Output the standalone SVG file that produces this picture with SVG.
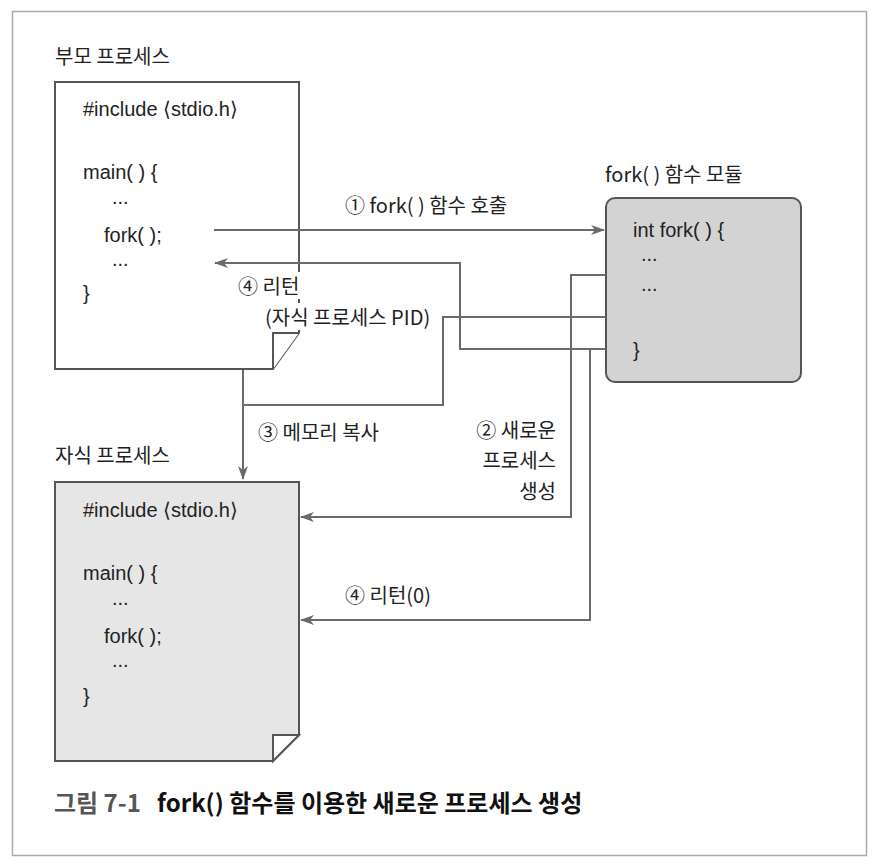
<svg xmlns="http://www.w3.org/2000/svg" width="880" height="865" viewBox="0 0 880 865">
<style>
  text { font-family: "Liberation Sans", "Noto Sans CJK KR", sans-serif; font-size: 20px; fill: #222; }
  .ko { font-family: "Noto Sans CJK KR", "Liberation Sans", sans-serif; }
  .doc { stroke: #555; stroke-width: 2; }
  .conn { fill: none; stroke: #6a6a6a; stroke-width: 2; }
  .cap { font-family: "Noto Sans CJK KR", sans-serif; font-size: 24px; font-weight: bold; }
</style>
<defs>
  <marker id="arr" viewBox="0 0 14 10" refX="13" refY="5" markerWidth="14" markerHeight="10" markerUnits="userSpaceOnUse" orient="auto">
    <path d="M0,0 L14,5 L0,10 L4,5 Z" fill="#6a6a6a"/>
  </marker>
</defs>
<rect x="0" y="0" width="880" height="865" fill="#fff"/>
<rect x="12.5" y="11.5" width="854" height="844" fill="none" stroke="#aaa" stroke-width="1.5"/>

<g id="parent">
  <text x="55" y="64" class="ko">부모 프로세스</text>
  <path class="doc" fill="#fff" d="M55,82 H299 V333 L273,369 H55 Z"/>
  <path class="doc" fill="#fff" d="M273,369 V333 H299"/>
  <text x="83" y="116">#include ⟨stdio.h⟩</text>
  <text x="83" y="179">main( ) {</text>
  <text x="112" y="204">...</text>
  <text x="104" y="242">fork( );</text>
  <text x="112" y="266">...</text>
  <text x="83" y="300">}</text>
</g>

<g id="forkmodule">
  <text x="605" y="182" class="ko">fork( ) 함수 모듈</text>
  <rect class="doc" x="606" y="198" width="195" height="184" rx="9" fill="#d3d3d3"/>
  <text x="633" y="237">int fork( ) {</text>
  <text x="641" y="261">...</text>
  <text x="641" y="291">...</text>
  <text x="633" y="357">}</text>
</g>

<g id="child">
  <text x="55" y="463" class="ko">자식 프로세스</text>
  <path class="doc" fill="#e6e6e6" d="M55,482 H299 V735 L273,761 H55 Z"/>
  <path class="doc" fill="#fff" d="M273,761 V735 H299 Z"/>
  <text x="83" y="517">#include ⟨stdio.h⟩</text>
  <text x="83" y="580">main( ) {</text>
  <text x="112" y="605">...</text>
  <text x="104" y="643">fork( );</text>
  <text x="112" y="667">...</text>
  <text x="83" y="703">}</text>
</g>

<g id="connectors">
  <path class="conn" d="M214,230 H604" marker-end="url(#arr)"/>
  <path class="conn" d="M606,349 H460 V263 H215" marker-end="url(#arr)"/>
  <path class="conn" d="M243,370 V479" marker-end="url(#arr)"/>
  <path class="conn" d="M243,405 H443 V317 H606"/>
  <path class="conn" d="M606,275 H571 V517 H301" marker-end="url(#arr)"/>
  <path class="conn" d="M590,349 V620 H301" marker-end="url(#arr)"/>
</g>

<g id="labels">
  <text x="345" y="213" class="ko">① fork( ) 함수 호출</text>
  <rect x="235" y="272" width="70" height="27" fill="#fff"/>
  <rect x="262" y="303" width="180" height="27" fill="#fff"/>
  <text x="238" y="294" class="ko">④ 리턴</text>
  <text x="265" y="325" class="ko">(자식 프로세스 PID)</text>
  <text x="258" y="440" class="ko">③ 메모리 복사</text>
  <text x="556" y="438" text-anchor="end" class="ko">② 새로운</text>
  <text x="556" y="468" text-anchor="end" class="ko">프로세스</text>
  <text x="556" y="499" text-anchor="end" class="ko">생성</text>
  <text x="345" y="603" class="ko">④ 리턴(0)</text>
</g>

<g id="caption">
  <text x="54" y="812" class="cap" style="fill:#555">그림 7-1</text>
  <text x="157" y="812" class="cap" style="fill:#111">fork() 함수를 이용한 새로운 프로세스 생성</text>
</g>
</svg>
